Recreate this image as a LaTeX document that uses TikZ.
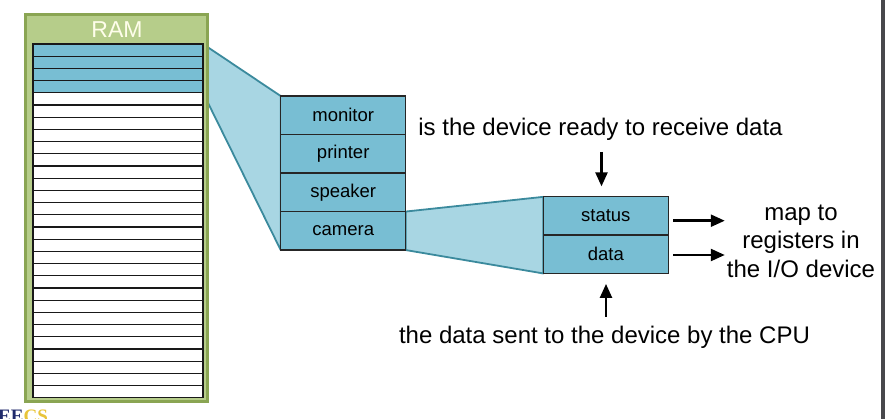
\documentclass[tikz,border=0pt]{standalone}
\usepackage{fontspec}
\setmainfont{Liberation Sans}
\newfontfamily\logofont{Liberation Serif}
\usetikzlibrary{positioning,arrows.meta,backgrounds}
\definecolor{ramgreen}{HTML}{B6CD8A}
\definecolor{ramedge}{HTML}{8AA553}
\definecolor{cellblue}{HTML}{78BED3}
\definecolor{fanblue}{HTML}{A8D6E3}
\definecolor{fanedge}{HTML}{3B8A9D}
\definecolor{logoblue}{HTML}{1F2A6B}
\definecolor{logogold}{HTML}{E8C43A}
\definecolor{edgegray}{HTML}{48484C}

\begin{document}
\begin{tikzpicture}[x=1pt,y=-1pt,
  cell/.style={draw=black!85,line width=1.3pt,fill=cellblue,minimum width=125pt,minimum height=38.5pt,inner sep=0pt,outer sep=0pt,font=\fontsize{18.5}{20}\selectfont},
  ramrow/.style={draw=black!90,line width=1.2pt,minimum width=170pt,minimum height=12.2pt,inner sep=0pt,outer sep=0pt},
  fan/.style={fill=fanblue,draw=fanedge,line width=1.8pt,line join=round},
  note/.style={font=\fontsize{24}{28.5}\selectfont,inner sep=2pt},
  arr/.style={line width=2.4pt,-{Triangle[length=14pt,width=12pt]}}]
  \useasboundingbox (0,0) rectangle (885,419);
  \clip (0,0) rectangle (885,419);

  % memory
  \node[draw=ramedge,fill=ramgreen,line width=3pt,minimum width=182pt,minimum height=387pt,inner sep=0pt] (ram) at (116.5,208) {};
  \node[text=white!92!yellow,font=\fontsize{23}{24}\selectfont] (ramlabel) at (117,29.5) {RAM};
  \foreach \i in {1,...,29} {
    \ifnum\i<5 \def\rowfill{cellblue}\else\def\rowfill{white}\fi
    \pgfmathsetmacro\ry{50.1+12.2*(\i-1)}
    \node[ramrow,fill=\rowfill] (row\i) at (118,\ry) {};
  }

  % device table
  \node[cell] (monitor) at (343.2,115.3) {monitor};
  \node[cell,below=0pt of monitor] (printer) {printer};
  \node[cell,below=0pt of printer] (speaker) {speaker};
  \node[cell,below=0pt of speaker] (camera) {camera};

  % registers
  \node[cell,minimum height=38.3pt] (status) at (605.8,216) {status};
  \node[cell,minimum height=38.3pt,below=0pt of status] (data) {data};

  \begin{scope}[on background layer]
    \draw[fan] (row1.north east) -- (monitor.north west) -- (camera.south west) -- (row4.south east) -- cycle;
    \draw[fan] (camera.north east) -- (status.north west) -- (data.south west) -- (camera.south east) -- cycle;
  \end{scope}

  % notes
  \node[note] (ready) at (600.5,129) {is the device ready to receive data};
  \node[note] (sent) at (604.5,337) {the data sent to the device by the CPU};
  \node[note,align=center] (map) at (801,241) {map to\\registers in\\the I/O device};

  \draw[arr,shorten <=9.5pt,shorten >=10.5pt] ([xshift=1pt]ready.south) -- ([xshift=1pt]ready.south |- status.north);
  \draw[arr,shorten <=7pt,shorten >=10.5pt] ([xshift=1.5pt]sent.north) -- ([xshift=1.5pt]sent.north |- data.south);
  \draw[arr] ([xshift=5pt,yshift=-4.7pt]status.east) -- ([yshift=-4.7pt]status.east -| map.west);
  \draw[arr] ([xshift=5pt,yshift=-0.7pt]data.east) -- ([yshift=-0.7pt]data.east -| map.west);

  \node[anchor=north west,inner sep=0pt,font=\logofont\bfseries\fontsize{19}{19}\selectfont] (logo) at (-2,410) {\textcolor{logoblue}{EE}\textcolor{logogold}{CS}};
  \fill[edgegray] (881,0) rectangle (885,419);
\end{tikzpicture}
\end{document}
